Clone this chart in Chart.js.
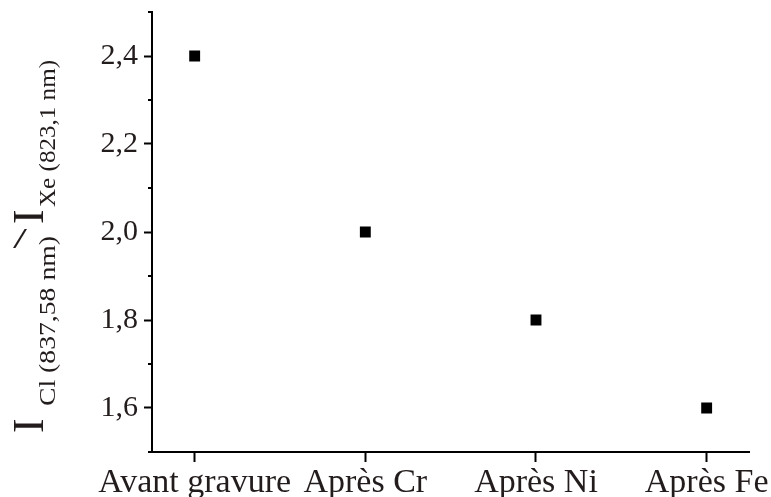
<!DOCTYPE html>
<html lang="fr">
<head>
<meta charset="UTF-8">
<title>Rapport I Cl / I Xe</title>
<script src="https://cdn.jsdelivr.net/npm/chart.js"></script>
<style>
  html, body { margin: 0; padding: 0; background: #fff; }
</style>
</head>
<body>
<canvas id="ratioChart" width="771" height="497"></canvas>
<script>
// étapes de gravure et rapport d'intensité mesuré
const etapes = ['Avant gravure', 'Après Cr', 'Après Ni', 'Après Fe'];
const rapport = [2.4, 2.0, 1.8, 1.6];

const SERIF = '"Liberation Serif", "Times New Roman", serif';
const TEXT = '#231c1c';

// graduations principales tous les 0,2 ; secondaires tous les 0,1
function isMajor(v) {
    return Math.round(v * 10) % 2 === 0;
}

// petites graduations secondaires sur l'axe y
const minorTicks = {
    id: 'minorTicks',
    afterDraw(chart) {
        const y = chart.scales.y;
        const ctx = chart.ctx;
        const x0 = chart.chartArea.left;
        ctx.save();
        ctx.strokeStyle = '#000';
        ctx.lineWidth = 2;
        y.ticks.forEach(t => {
            if (isMajor(t.value)) return;
            const py = Math.round(y.getPixelForValue(t.value));
            ctx.beginPath();
            ctx.moveTo(x0 - 4, py);
            ctx.lineTo(x0, py);
            ctx.stroke();
        });
        ctx.restore();
    }
};

// titre vertical avec indices : I_Cl(837,58 nm) / I_Xe(823,1 nm)
const yTitle = {
    id: 'yTitle',
    afterDraw(chart) {
        const ctx = chart.ctx;
        const piece = (text, size, u, v, len) => {
            ctx.font = size + 'px ' + SERIF;
            const w = ctx.measureText(text).width;
            ctx.save();
            ctx.translate(u, v);
            if (len) ctx.scale(len / w, 1);
            ctx.fillText(text, 0, 0);
            ctx.restore();
        };
        ctx.save();
        ctx.fillStyle = TEXT;
        ctx.textBaseline = 'alphabetic';

        // barre de fraction, restée droite (non tournée)
        piece('/', 30, 13, 248, 14);

        ctx.translate(43, 433);
        ctx.rotate(-Math.PI / 2);
        piece('I', 44, 0, 0);
        piece('Cl (837,58 nm)', 24, 27, 12, 170);
        piece('I', 44, 209, 0);
        piece('Xe (823,1 nm)', 24, 226, 12, 147);
        ctx.restore();
    }
};

new Chart(document.getElementById('ratioChart'), {
    type: 'scatter',
    data: {
        datasets: [{
            data: rapport.map((v, i) => ({ x: i, y: v })),
            pointStyle: 'rect',
            pointRadius: 7.7,
            backgroundColor: '#000',
            borderColor: '#000',
            borderWidth: 0,
            showLine: false
        }]
    },
    options: {
        responsive: false,
        animation: false,
        layout: { padding: { top: 0, right: 21, left: 0, bottom: 0 } },
        plugins: {
            legend: { display: false },
            tooltip: { enabled: false }
        },
        scales: {
            x: {
                type: 'linear',
                min: -0.25,
                max: 3.25,
                afterFit: s => { s.height = 45; },
                border: { color: '#000', width: 2 },
                grid: { drawOnChartArea: false, tickLength: 10, tickWidth: 2, tickColor: '#000' },
                ticks: {
                    stepSize: 1,
                    includeBounds: false,
                    autoSkip: false,
                    maxRotation: 0,
                    padding: 1,
                    color: TEXT,
                    font: { family: SERIF, size: 34 },
                    callback: v => etapes[v] ?? ''
                }
            },
            y: {
                min: 1.5,
                max: 2.5,
                afterFit: s => { s.width = 152; s.paddingTop = 12; },
                border: { color: '#000', width: 2 },
                grid: {
                    drawOnChartArea: false,
                    tickLength: 8,
                    tickWidth: 2,
                    tickColor: c => (c.tick && isMajor(c.tick.value)) ? '#000' : 'rgba(0,0,0,0)'
                },
                ticks: {
                    stepSize: 0.1,
                    includeBounds: false,
                    autoSkip: false,
                    padding: 6,
                    color: TEXT,
                    font: { family: SERIF, size: 30 },
                    callback: v => isMajor(v) ? v.toFixed(1).replace('.', ',') : ''
                }
            }
        }
    },
    plugins: [minorTicks, yTitle]
});
</script>
</body>
</html>
